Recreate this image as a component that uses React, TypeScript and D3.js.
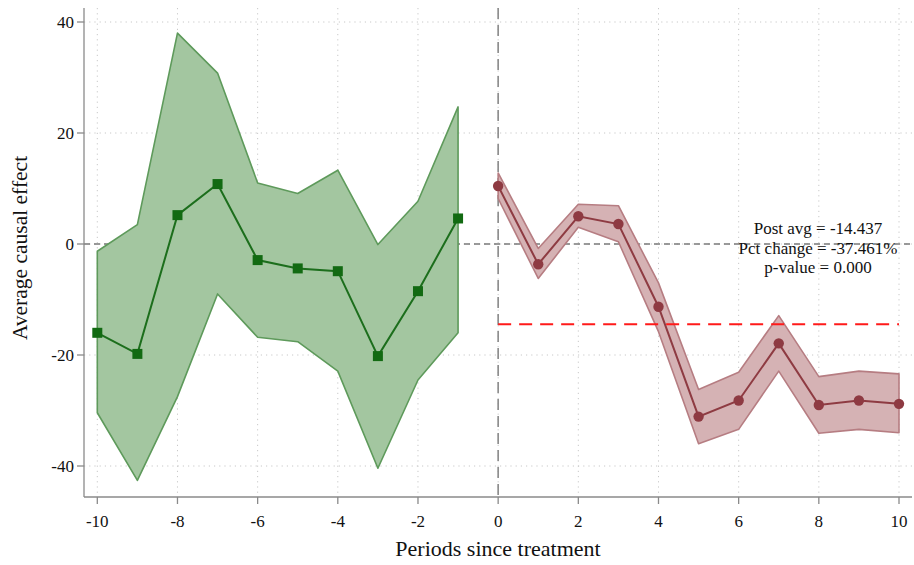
import React from "react";
import * as d3 from "d3";

// Pre-treatment (placebo) estimates with confidence bounds
const prePeriods = [-10, -9, -8, -7, -6, -5, -4, -3, -2, -1];
const preEstimate = [-16.0, -19.8, 5.2, 10.8, -2.9, -4.4, -4.9, -20.2, -8.5, 4.6];
const preUpper = [-1.3, 3.5, 38.0, 30.8, 11.0, 9.1, 13.3, -0.1, 7.7, 24.7];
const preLower = [-30.4, -42.6, -27.5, -9.0, -16.8, -17.6, -22.9, -40.4, -24.5, -16.0];

// Post-treatment estimates with confidence bounds
const postPeriods = [0, 1, 2, 3, 4, 5, 6, 7, 8, 9, 10];
const postEstimate = [10.45, -3.65, 5.0, 3.6, -11.3, -31.1, -28.2, -17.9, -29.0, -28.2, -28.8];
const postUpper = [12.8, -0.8, 7.15, 6.9, -7.0, -26.2, -23.1, -12.9, -23.9, -22.9, -23.4];
const postLower = [8.2, -6.2, 3.0, 0.4, -15.8, -36.0, -33.4, -22.9, -34.1, -33.4, -34.0];

const postAvg = -14.437;
const annotation = ["Post avg = -14.437", "Pct change = -37.461%", "p-value = 0.000"];

const xTicks = [-10, -8, -6, -4, -2, 0, 2, 4, 6, 8, 10];
const yTicks = [-40, -20, 0, 20, 40];

const W = 914;
const H = 565;
const left = 84;
const right = 912;
const top = 8;
const bottom = 497;

const FONT = "'Liberation Serif', 'Times New Roman', serif";

export default function App() {
  const x = d3.scaleLinear().domain([-10, 10]).range([97.3, 899]);
  const y = d3.scaleLinear().domain([0, 20]).range([244, 133]);

  const pre = prePeriods.map((p, i) => ({ p, e: preEstimate[i], u: preUpper[i], l: preLower[i] }));
  const post = postPeriods.map((p, i) => ({ p, e: postEstimate[i], u: postUpper[i], l: postLower[i] }));

  type D = { p: number; e: number; u: number; l: number };
  const band = d3
    .area<D>()
    .x((d) => x(d.p))
    .y0((d) => y(d.l))
    .y1((d) => y(d.u));
  const line = d3
    .line<D>()
    .x((d) => x(d.p))
    .y((d) => y(d.e));

  const lineBaselines = [234, 253.5, 273];

  return (
    <svg
      width={W}
      height={H}
      style={{ position: "absolute", left: 0, top: 0, background: "#fff" }}
      fontFamily={FONT}
    >
      <rect x={0} y={0} width={W} height={H} fill="#fff" />

      {/* dotted grid */}
      {xTicks.map((t) => (
        <line
          key={"gx" + t}
          x1={x(t)}
          x2={x(t)}
          y1={top}
          y2={bottom}
          stroke="#c8c8c8"
          strokeWidth={1}
          strokeDasharray="1.2,4"
        />
      ))}
      {yTicks.map((t) => (
        <line
          key={"gy" + t}
          x1={left}
          x2={right}
          y1={y(t)}
          y2={y(t)}
          stroke="#c8c8c8"
          strokeWidth={1}
          strokeDasharray="1.2,4"
        />
      ))}

      {/* reference lines */}
      <line x1={left} x2={right} y1={y(0)} y2={y(0)} stroke="#7a7a7a" strokeWidth={1.3} strokeDasharray="6,4" />
      <line x1={x(0)} x2={x(0)} y1={top} y2={bottom} stroke="#8a8a8a" strokeWidth={1.6} strokeDasharray="11,6" />

      {/* pre-treatment band, line and markers */}
      <path d={band(pre) ?? ""} fill="#a3c6a0" stroke="#5e9a5b" strokeWidth={1.6} strokeLinejoin="round" />
      <path d={line(pre) ?? ""} fill="none" stroke="#1c6e1c" strokeWidth={2} />
      {pre.map((d) => (
        <rect key={"sq" + d.p} x={x(d.p) - 5} y={y(d.e) - 5} width={10} height={10} fill="#126a12" />
      ))}

      {/* post-treatment band, line and markers */}
      <path d={band(post) ?? ""} fill="#d5b2b4" stroke="#b67d82" strokeWidth={1.6} strokeLinejoin="round" />
      <path d={line(post) ?? ""} fill="none" stroke="#8e3b42" strokeWidth={2} />
      {post.map((d) => (
        <circle key={"c" + d.p} cx={x(d.p)} cy={y(d.e)} r={5.2} fill="#8e3a42" />
      ))}

      {/* post-period average */}
      <line x1={x(0)} x2={x(10)} y1={y(postAvg)} y2={y(postAvg)} stroke="#ff1a1a" strokeWidth={2} strokeDasharray="13,8" />

      {/* annotation */}
      {annotation.map((s, i) => (
        <text key={s} x={818} y={lineBaselines[i]} textAnchor="middle" fontSize={17} fill="#111">
          {s}
        </text>
      ))}

      {/* axes */}
      <line x1={left} x2={left} y1={top} y2={bottom} stroke="#8a8a8a" strokeWidth={1.3} />
      <line x1={left} x2={right} y1={bottom} y2={bottom} stroke="#8a8a8a" strokeWidth={1.3} />
      {yTicks.map((t) => (
        <g key={"yt" + t}>
          <line x1={left - 7} x2={left} y1={y(t)} y2={y(t)} stroke="#8a8a8a" strokeWidth={1.3} />
          <text x={left - 10} y={y(t) + 6} textAnchor="end" fontSize={17} fill="#111">
            {t}
          </text>
        </g>
      ))}
      {xTicks.map((t) => (
        <g key={"xt" + t}>
          <line x1={x(t)} x2={x(t)} y1={bottom} y2={bottom + 7} stroke="#8a8a8a" strokeWidth={1.3} />
          <text x={x(t)} y={527} textAnchor="middle" fontSize={17} fill="#111">
            {t}
          </text>
        </g>
      ))}

      {/* axis titles */}
      <text x={498} y={556} textAnchor="middle" fontSize={22} fill="#111">
        Periods since treatment
      </text>
      <text
        transform={`translate(27, 248) rotate(-90)`}
        textAnchor="middle"
        fontSize={21.5}
        fill="#111"
      >
        Average causal effect
      </text>
    </svg>
  );
}
